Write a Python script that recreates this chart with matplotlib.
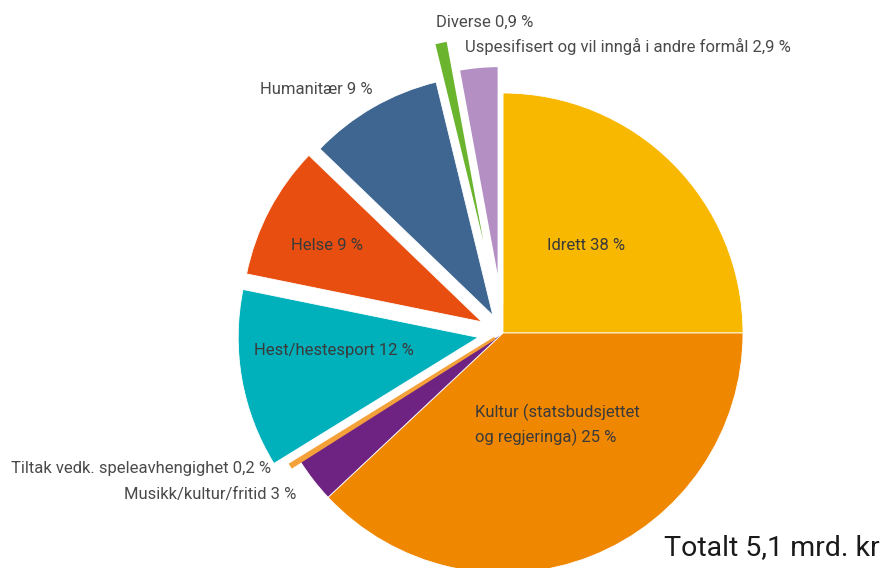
import matplotlib
matplotlib.use("Agg")
import matplotlib.pyplot as plt

# shares as drawn in the picture (clockwise from 12 o'clock)
categories = [
    "Idrett", "Kultur", "Musikk/kultur/fritid", "Tiltak vedk. speleavhengighet",
    "Hest/hestesport", "Helse", "Humanitær", "Diverse", "Uspesifisert",
]
shares = [25, 38, 3, 0.2, 12, 9, 9, 0.9, 2.9]
label_texts = [
    "Idrett 38 %",
    "Kultur (statsbudsjettet\nog regjeringa) 25 %",
    "Musikk/kultur/fritid 3 %",
    "Tiltak vedk. speleavhengighet 0,2 %",
    "Hest/hestesport 12 %",
    "Helse 9 %",
    "Humanitær 9 %",
    "Diverse 0,9 %",
    "Uspesifisert og vil inngå i andre formål 2,9 %",
]
colors = ["#F9B800", "#F08700", "#6E2382", "#F4A13A", "#00B1BC",
          "#E84E10", "#3E6690", "#6BB42D", "#B48FC3"]
explode = [0, 0, 0, 0.04, 0.105, 0.1, 0.085, 0.24, 0.12]

W, H = 882, 568
fig = plt.figure(figsize=(W / 100, H / 100), dpi=100)
ax = fig.add_axes([0, 0, 1, 1])

cx, cy, r = 503, H - 333, 240
# pie offsets exploded wedges in data units, so scale by the radius
wedges, _ = ax.pie(
    shares, colors=colors, explode=[e * r for e in explode],
    startangle=90, counterclock=False,
    center=(cx, cy), radius=r, frame=True,
    wedgeprops=dict(edgecolor="white", linewidth=0.6),
)
# narrow slices look trimmed near the centre in the original
wedges[8].set_linewidth(4)
wedges[7].set_linewidth(1.5)
# the 0,2 % slice is drawn as a thin orange stroke
wedges[3].set_edgecolor(colors[3])
wedges[3].set_linewidth(2)
ax.set_xlim(0, W)
ax.set_ylim(0, H)
ax.set_aspect("equal")
ax.axis("off")

font = ["Roboto", "DejaVu Sans"]
txt = dict(color="#4a4a4a", fontsize=12, family=font)


def label(x, y, s, **kw):
    opts = dict(txt)
    opts.update(kw)
    ax.text(x, H - y, s, va="center", **opts)


label(547, 245, label_texts[0], color="#3a3a3a")
label(475, 425, label_texts[1], linespacing=1.55, color="#3a3a3a")
label(296, 494, label_texts[2], ha="right")
label(11, 469, label_texts[3])
label(254, 351, label_texts[4], color="#3a3a3a")
label(291, 246, label_texts[5], color="#3a3a3a")
label(260, 90, label_texts[6])
label(436, 22, label_texts[7])
label(465, 46, label_texts[8])

ax.text(880, H - 548, "Totalt 5,1 mrd. kr", ha="right", va="center",
        fontsize=20.5, color="#1a1a1a", family=font)

fig.savefig("out.png", dpi=100)
